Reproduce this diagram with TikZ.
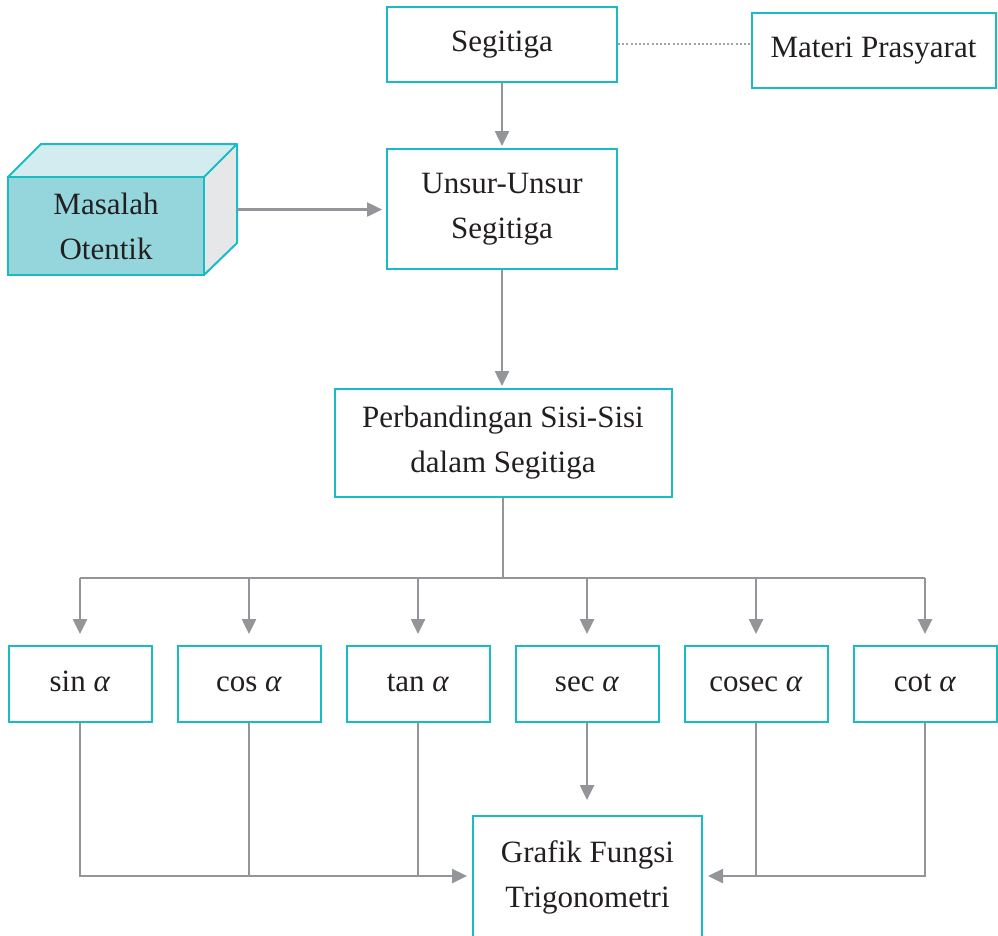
\documentclass[tikz,border=0pt]{standalone}
\usepackage{fontspec}
\setmainfont{Liberation Serif}
\usetikzlibrary{arrows.meta}
\definecolor{tealb}{RGB}{26,188,196}
\definecolor{frontf}{RGB}{149,213,220}
\definecolor{topf}{RGB}{211,236,239}
\definecolor{sidef}{RGB}{230,231,232}
\definecolor{grayc}{RGB}{147,149,152}
\definecolor{dotc}{RGB}{160,162,165}
\definecolor{txt}{RGB}{35,31,32}
\begin{document}
\begin{tikzpicture}[x=1pt,y=-1pt,
  box/.style={draw=tealb, line width=2pt, fill=white, text=txt,
    font=\fontsize{31}{45}\selectfont, align=center, inner sep=0pt},
  one/.style={text height=21pt, text depth=7pt},
  conn/.style={draw=grayc, line width=2.5pt},
  arr/.style={conn, -{Triangle[length=15pt,width=14pt]}}]
\useasboundingbox (0,0) rectangle (998,935);
\clip (0,0) rectangle (998,935);

% top nodes
\node[box, one, minimum width=230pt, minimum height=75pt] (seg) at (502,44.5) {Segitiga};
\node[box, one, minimum width=244pt, minimum height=75pt] (mat) at (873.5,50.5) {Materi Prasyarat};
\node[box, minimum width=230pt, minimum height=120pt] (uns) at (502,209) {Unsur-Unsur\\Segitiga};
\node[box, minimum width=337pt, minimum height=108pt] (perb) at (503,443) {Perbandingan Sisi-Sisi\\dalam Segitiga};

% 3D box
\fill[topf] (8,177) -- (41,144) -- (237,144) -- (204,177) -- cycle;
\fill[sidef] (204,177) -- (237,144) -- (237,243) -- (204,275) -- cycle;
\node[box, fill=frontf, minimum width=196pt, minimum height=98pt] (mas) at (106,226) {Masalah\\Otentik};
\draw[tealb, line width=2pt, line join=round] (8,177) -- (41,144) -- (237,144) -- (204,177)
  (237,144) -- (237,243) -- (204,275);
\coordinate (masR) at (237,209.5);

% function boxes
\foreach \n/\t/\x in {sin/sin/80, cos/cos/249, tan/tan/418, sec/sec/587, csc/cosec/756, cot/cot/925}{
  \node[box, one, minimum width=143pt, minimum height=76pt] (\n) at (\x,684) {\t\ \textit{α}};
}

% bottom node
\node[box, minimum width=229pt, minimum height=122pt] (graf) at (587.5,877) {Grafik Fungsi\\Trigonometri};

% connectors
\draw[dotc, line width=2pt, dash pattern=on 2pt off 2.2pt] (seg.east |- 0,44) -- (mat.west |- 0,44);
\draw[arr, shorten >=2pt] (seg) -- (uns);
\draw[arr, shorten >=4pt] (masR) -- (uns.west |- masR);
\draw[arr, shorten >=2pt] (uns) -- (uns |- perb.north);
\coordinate (hub) at (503,578);
\draw[conn] (perb.south) -- (hub);
\draw[conn] (sin.north |- hub) -- (cot.north |- hub);
\foreach \n in {sin,cos,tan,sec,csc,cot}{
  \draw[arr, shorten >=11pt] (\n.north |- hub) -- (\n.north);
}
\coordinate (gl) at (467,876);
\coordinate (gr) at (708,876);
\draw[arr] (sin.south) |- (gl);
\draw[conn] (cos.south) -- (cos.south |- gl);
\draw[conn] (tan.south) -- (tan.south |- gl);
\draw[arr, shorten >=15pt] (sec.south) -- (sec.south |- graf.north);
\draw[arr] (cot.south) |- (gr);
\draw[conn] (csc.south) -- (csc.south |- gr);
\end{tikzpicture}
\end{document}
